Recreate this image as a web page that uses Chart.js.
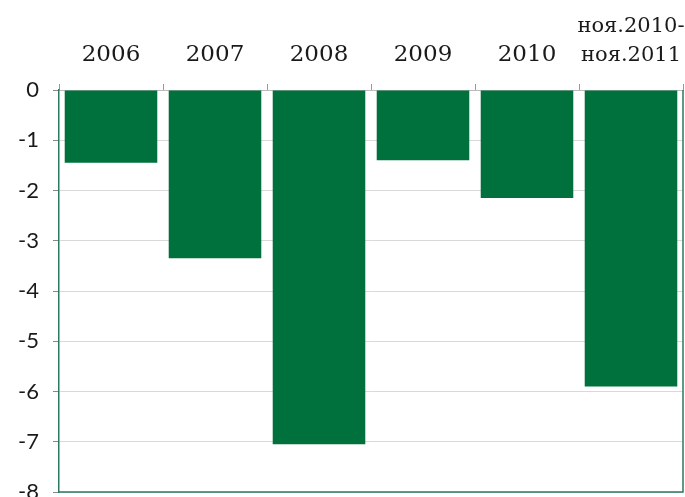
<!DOCTYPE html>
<html>
<head>
<meta charset="utf-8">
<script src="https://cdn.jsdelivr.net/npm/chart.js@4/dist/chart.umd.min.js"></script>
<style>
    html, body { margin: 0; padding: 0; background: #fff; }
    #wrap { width: 685px; height: 497px; }
</style>
</head>
<body>
<div id="wrap"><canvas id="myChart" width="685" height="497"></canvas></div>
<script>
const categories = ['2006', '2007', '2008', '2009', '2010', ['ноя.2010-', 'ноя.2011']];
const values = [-1.45, -3.35, -7.05, -1.4, -2.15, -5.9];
const yTicks = [0, -1, -2, -3, -4, -5, -6, -7, -8];

const green = '#00703c';
const axisGreen = '#2e7a5c';

// bottom and right frame lines of the plot area
const frame = {
    id: 'frame',
    afterDatasetsDraw(chart) {
        const { ctx, chartArea: a } = chart;
        ctx.save();
        ctx.strokeStyle = axisGreen;
        ctx.lineWidth = 1.5;
        ctx.beginPath();
        ctx.moveTo(a.left, a.bottom);
        ctx.lineTo(a.right, a.bottom);
        ctx.lineTo(a.right, a.top);
        ctx.stroke();
        ctx.restore();
    }
};

new Chart('myChart', {
    type: 'bar',
    data: {
        labels: categories,
        datasets: [{
            data: values,
            backgroundColor: green,
            barPercentage: 0.89,
            categoryPercentage: 1.0
        }]
    },
    options: {
        responsive: false,
        animation: false,
        layout: { padding: { left: 0, right: 2, top: 0, bottom: 5 } },
        plugins: {
            legend: { display: false },
            tooltip: { enabled: false }
        },
        scales: {
            x: {
                position: 'top',
                offset: true,
                afterFit: (s) => {
                    s.height = 90;
                    s.paddingLeft = 0;
                    s.paddingRight = 0;
                },
                grid: {
                    offset: true,
                    drawOnChartArea: false,
                    tickLength: 6,
                    tickColor: '#999999'
                },
                border: { color: '#bbbbbb' },
                ticks: {
                    color: '#1a1a1a',
                    // the long two-line label is set a touch smaller so it fits
                    font: (c) => ({
                        family: 'DejaVu Serif',
                        size: c.index === 5 ? 21 : 23,
                        lineHeight: c.index === 5 ? 1.38 : 1.26
                    }),
                    padding: 14,
                    maxRotation: 0,
                    autoSkip: false
                }
            },
            y: {
                min: -8,
                max: 0,
                afterFit: (s) => {
                    s.width = 59;
                    s.paddingTop = 0;
                    s.paddingBottom = 0;
                },
                afterBuildTicks: (s) => { s.ticks = yTicks.map(v => ({ value: v })); },
                grid: {
                    color: '#d9d9d9',
                    tickLength: 6,
                    tickColor: '#888888'
                },
                border: { color: axisGreen, width: 1.5 },
                ticks: {
                    color: '#1a1a1a',
                    font: { family: 'Lato', size: 22 },
                    padding: 14
                }
            }
        }
    },
    plugins: [frame]
});
</script>
</body>
</html>
